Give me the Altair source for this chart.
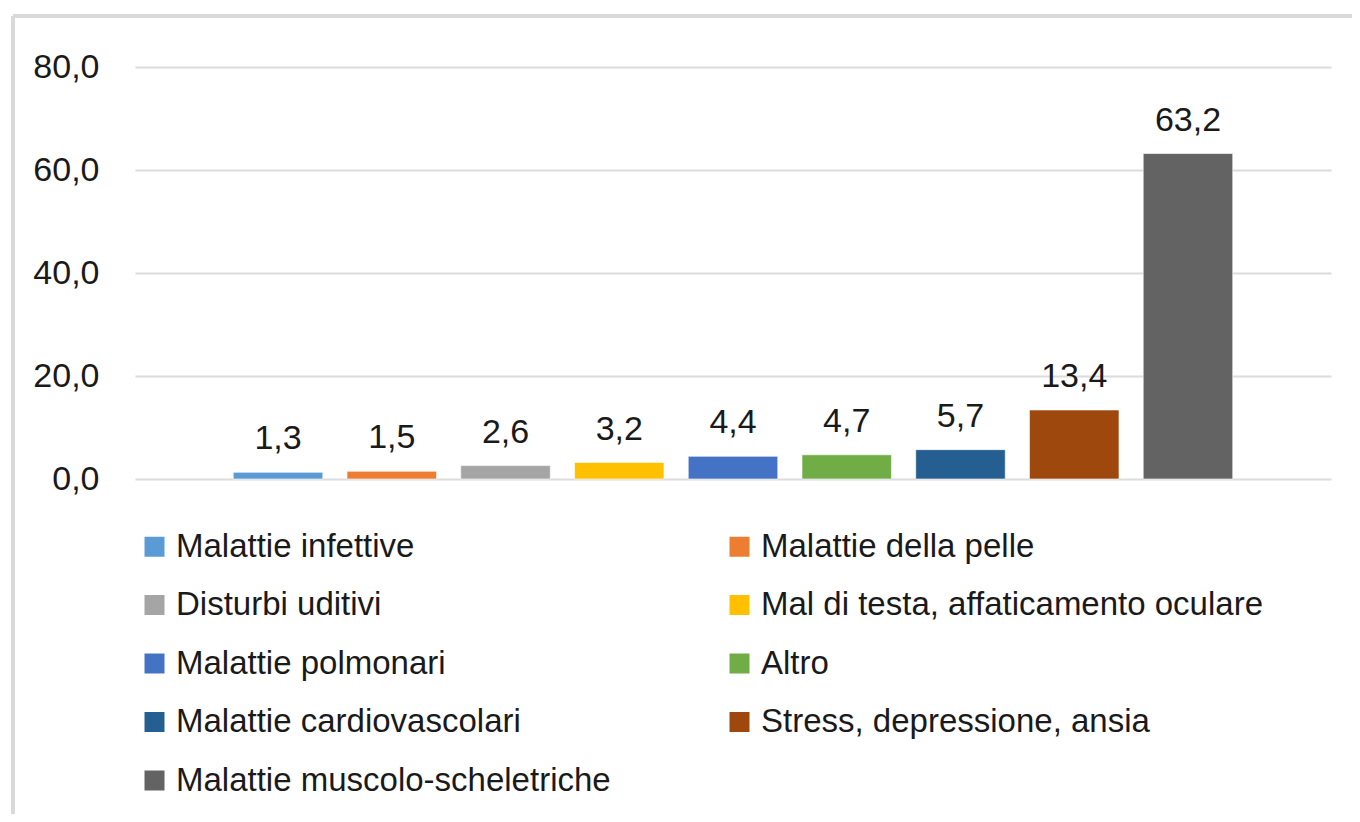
import altair as alt
import pandas as pd

categories = [
    "Malattie infettive",
    "Malattie della pelle",
    "Disturbi uditivi",
    "Mal di testa, affaticamento oculare",
    "Malattie polmonari",
    "Altro",
    "Malattie cardiovascolari",
    "Stress, depressione, ansia",
    "Malattie muscolo-scheletriche",
]
values = [1.3, 1.5, 2.6, 3.2, 4.4, 4.7, 5.7, 13.4, 63.2]
colors = ["#5B9BD5", "#ED7D31", "#A5A5A5", "#FFC000", "#4472C4",
          "#70AD47", "#255E91", "#9E480E", "#636363"]
y_ticks = [0, 20, 40, 60, 80]

FONT = "Liberation Sans, Arial, sans-serif"

df = pd.DataFrame({"cat": categories, "val": values})

x_enc = alt.X("cat:N", sort=categories, axis=None,
              scale=alt.Scale(paddingInner=0.213, paddingOuter=0.864))

bars = alt.Chart(df).mark_bar(stroke="white", strokeWidth=1, strokeOpacity=0.6).encode(
    x=x_enc,
    y=alt.Y("val:Q",
            scale=alt.Scale(domain=[0, 80], nice=False),
            axis=alt.Axis(values=y_ticks, title=None, domain=False, ticks=False,
                          grid=True, gridColor="#DCDCDC", gridWidth=2,
                          labelExpr="replace(format(datum.value, '.1f'), '.', ',')",
                          labelFont=FONT, labelFontSize=34, labelColor="#1a1a1a",
                          labelPadding=36)),
    color=alt.Color("cat:N", sort=categories,
                    scale=alt.Scale(domain=categories, range=colors),
                    legend=alt.Legend(title=None, orient="none", legendX=3, legendY=463,
                                      direction="horizontal",
                                      columns=2, columnPadding=112, rowPadding=24.5,
                                      symbolType="square", symbolSize=400,
                                      symbolStrokeWidth=0, labelFont=FONT,
                                      labelFontSize=33, labelColor="#1a1a1a",
                                      labelOffset=5, padding=0, labelLimit=0)),
)

labels = alt.Chart(df).transform_calculate(
    lab="replace(format(datum.val, '.1f'), '.', ',')"
).mark_text(font=FONT, fontSize=34, color="#1a1a1a", baseline="alphabetic", dy=-23).encode(
    x=x_enc,
    y=alt.Y("val:Q"),
    text="lab:N",
)

frame_left = alt.Chart(df).mark_rule(color="#D9D9D9", strokeWidth=3).encode(
    x=alt.value(-122), y=alt.value(-51), y2=alt.value(900))
frame_top = alt.Chart(df).mark_rule(color="#D9D9D9", strokeWidth=3).encode(
    x=alt.value(-122), x2=alt.value(1400), y=alt.value(-51))

chart = alt.layer(frame_left, frame_top, bars, labels).properties(
    width=1196, height=412,
    autosize=alt.AutoSizeParams(type="none"),
    padding={"left": 127, "top": 59, "right": 21, "bottom": 335},
).configure_view(stroke=None)

chart.save("out.html", embed_options={"renderer": "svg", "actions": False})
